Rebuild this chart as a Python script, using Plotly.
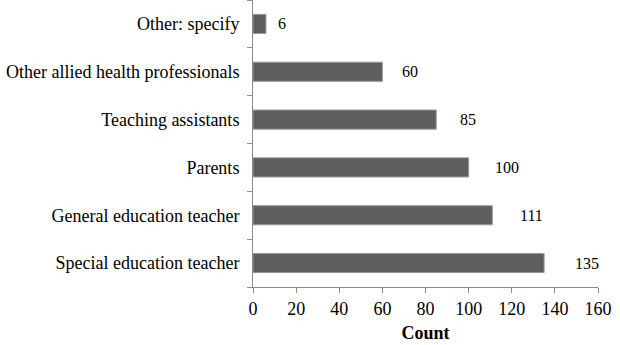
import plotly.graph_objects as go

categories = ["Special education teacher", "General education teacher", "Parents",
              "Teaching assistants", "Other allied health professionals", "Other: specify"]
counts = [135, 111, 100, 85, 60, 6]
x_ticks = [0, 20, 40, 60, 80, 100, 120, 140, 160]

FONT = "Liberation Serif"

fig = go.Figure()
fig.add_trace(go.Bar(
    x=counts, y=categories, orientation="h",
    marker=dict(color="#5e5e5e", line=dict(color="#9a9a9a", width=1)),
    width=0.4,
))

for c, v in zip(categories, counts):
    fig.add_annotation(x=v, y=c, text=str(v), showarrow=False, xanchor="left",
                       xshift=9 + 0.15 * v, font=dict(family=FONT, size=16, color="#000"))

fig.update_layout(
    width=620, height=345,
    margin=dict(l=253, r=22, t=0, b=58),
    plot_bgcolor="white", paper_bgcolor="white",
    showlegend=False,
    font=dict(family=FONT, color="#000"),
    xaxis=dict(range=[0, 160], tickvals=x_ticks, showgrid=False, zeroline=False,
               showline=True, linecolor="#8a8a8a", linewidth=1,
               ticks="outside", ticklen=5, tickcolor="#8a8a8a",
               tickfont=dict(family=FONT, size=18),
               title=dict(text="<b>Count</b>", font=dict(family=FONT, size=18), standoff=8)),
    yaxis=dict(categoryorder="array", categoryarray=categories, showgrid=False,
               showline=True, linecolor="#8a8a8a", linewidth=1,
               ticks="outside", ticklen=5, tickcolor="#8a8a8a", tickson="boundaries",
               tickfont=dict(family=FONT, size=18), ticksuffix="  "),
)

fig.write_html("out.html")
